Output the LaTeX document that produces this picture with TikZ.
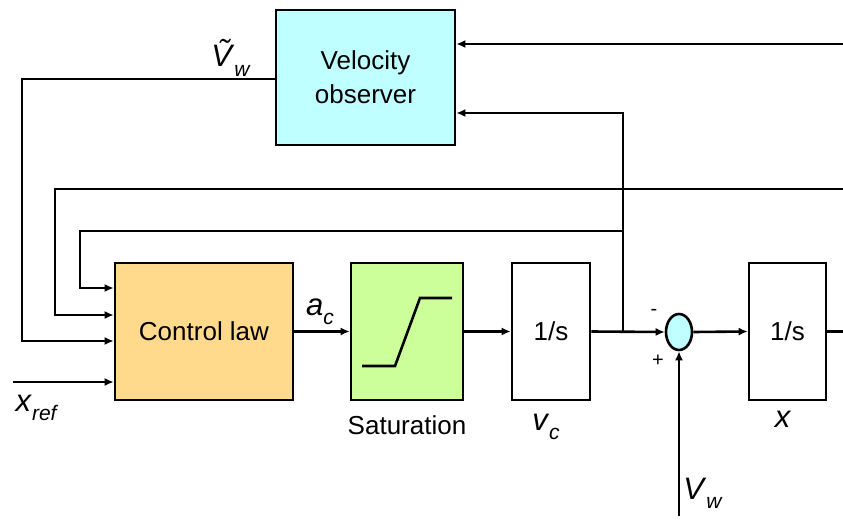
\documentclass[tikz,border=0pt]{standalone}
\usepackage{fontspec}
\setmainfont{Liberation Sans}
\usetikzlibrary{arrows.meta,shapes.geometric}
\definecolor{obscol}{RGB}{192,255,255}
\definecolor{ctlcol}{RGB}{255,218,140}
\definecolor{satcol}{RGB}{204,255,153}
\newcommand\lbl[2]{\fontsize{31}{33}\selectfont\textit{#1}\raisebox{-0.3em}{\fontsize{21}{22}\selectfont\textit{#2}}}
\begin{document}
\begin{tikzpicture}[x=1pt,y=-1pt,
  line width=2.6pt,
  blk/.style={draw, rectangle, inner sep=0pt, align=center,
     font=\fontsize{26}{34}\selectfont, minimum height=137pt},
  arr/.style={-{Latex[length=9pt,width=8pt]}},
  lab/.style={inner sep=0pt, font=\fontsize{26}{30}\selectfont}]
\useasboundingbox (0,0) rectangle (843,522);
% blocks
\node[blk, fill=obscol, minimum width=179pt, minimum height=135pt] (obs) at (365.5,77.5) {Velocity\\observer};
\node[blk, fill=ctlcol, minimum width=178pt] (ctl) at (204,331.5) {Control law};
\node[blk, fill=satcol, minimum width=112pt] (sat) at (407,331.5) {};
\node[blk, minimum width=78pt] (int1) at (551,331.5) {1/s};
\node[draw, ellipse, fill=obscol, minimum width=26pt, minimum height=36pt, inner sep=0pt] (sum) at (679,332) {};
\node[blk, minimum width=77pt] (int2) at (787.5,331.5) {1/s};
% saturation curve
\draw (362,366) -- (395,366) -- (420,298) -- (452,298);
% coordinates
\coordinate (j) at (623,331.5);
\coordinate (topR) at (843,44);
\coordinate (midR) at (843,189);
\coordinate (outR) at (843,331.5);
\coordinate (xin) at (13,382);
\coordinate (vwin) at (679,516);
% main path
\draw[arr] (ctl.east) -- (sat.west);
\draw[arr] (sat.east) -- (int1.west);
\draw[arr] (int1.east) -- (sum.west);
\draw[arr] (sum.east) -- (int2.west);
\draw (int2.east) -- (outR);
\draw[arr] (vwin) -- (sum.south);
% feedback to observer
\draw[arr] (topR) -- (obs.east |- topR);
\draw[arr] (j) -- (623,113) -- (obs.east |- 0,113);
% feedback to control law
\draw[arr] (midR) -- (55,189) -- (55,315) -- (ctl.west |- 0,315);
\draw[arr] (623,231) -- (80,231) -- (80,288) -- (ctl.west |- 0,288);
\draw[arr] (obs.west |- 0,79) -- (22,79) -- (22,341) -- (ctl.west |- 0,341);
\draw[arr] (xin) -- (ctl.west |- xin);
% labels
\node[lab] (satlbl) at (407,425) {Saturation};
\node[inner sep=0pt] (vtl) at (231,58) {\lbl{\~{V}}{w}};
\node[inner sep=0pt] (aclbl) at (320,312) {\lbl{a}{c}};
\node[inner sep=0pt] (vclbl) at (546,427) {\lbl{v}{c}};
\node[inner sep=0pt] (xlbl) at (783,424) {\lbl{x}{}};
\node[inner sep=0pt] (xreflbl) at (37,408) {\lbl{x}{ref}};
\node[inner sep=0pt] (vwlbl) at (703,493) {\lbl{V}{w}};
\node[lab, font=\fontsize{20}{22}\selectfont] (minus) at (654,312) {-};
\node[lab, font=\fontsize{20}{22}\selectfont] (plus) at (658,361) {+};
\end{tikzpicture}
\end{document}
